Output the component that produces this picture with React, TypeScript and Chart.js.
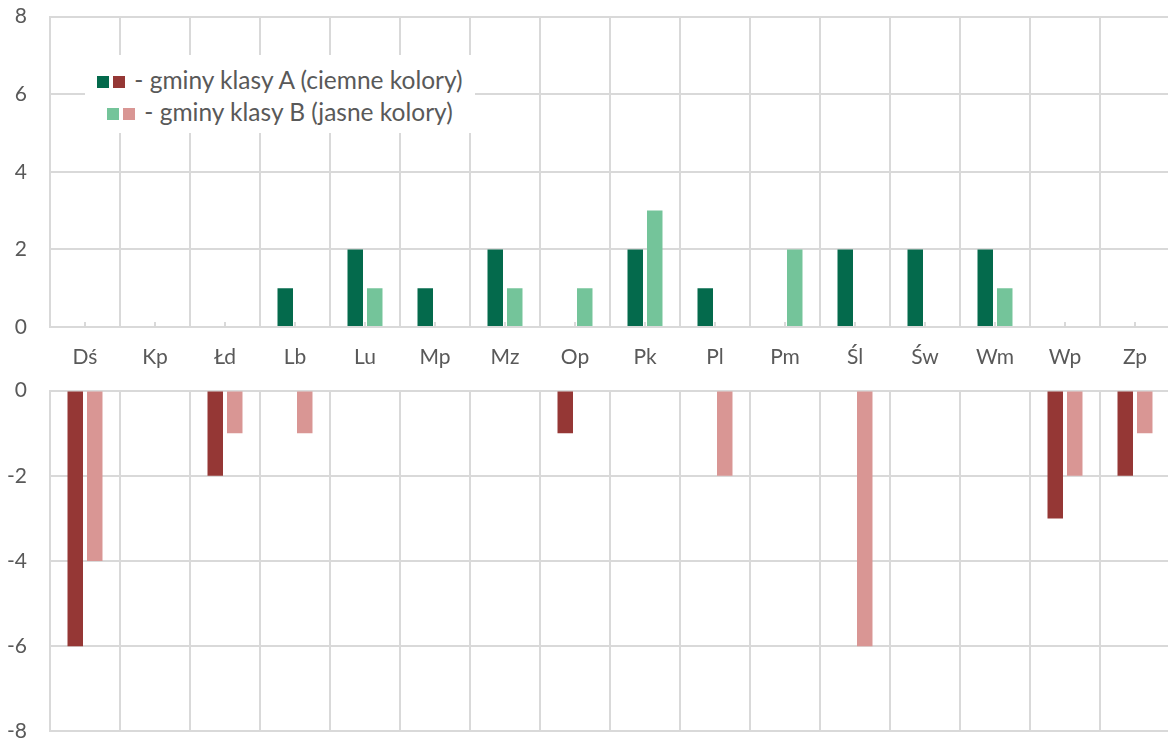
import React, { useEffect, useRef } from 'react';
import { Chart, registerables } from 'chart.js';

Chart.register(...registerables);

const categories = ['Dś', 'Kp', 'Łd', 'Lb', 'Lu', 'Mp', 'Mz', 'Op', 'Pk', 'Pl', 'Pm', 'Śl', 'Św', 'Wm', 'Wp', 'Zp'];
const classAPositive = [0, 0, 0, 1, 2, 1, 2, 0, 2, 1, 0, 2, 2, 2, 0, 0];
const classBPositive = [0, 0, 0, 0, 1, 0, 1, 1, 3, 0, 2, 0, 0, 1, 0, 0];
const classANegative = [-6, 0, -2, 0, 0, 0, 0, -1, 0, 0, 0, 0, 0, 0, -3, -2];
const classBNegative = [-4, 0, -1, -1, 0, 0, 0, 0, 0, -2, 0, -6, 0, 0, -2, -1];
const legendLineA = '- gminy klasy A (ciemne kolory)';
const legendLineB = '- gminy klasy B (jasne kolory)';

const DARK_GREEN = '#046A4C';
const LIGHT_GREEN = '#74C49A';
const DARK_RED = '#953735';
const LIGHT_RED = '#D99694';
const GRID = '#D9D9D9';
const TEXT = '#595959';
const FONT = 'Lato';

const barOpts = { categoryPercentage: 0.557, barPercentage: 0.795, borderWidth: 0 };

const centerTickMarks = {
  id: 'centerTickMarks',
  beforeDatasetsDraw(chart: any) {
    const xs = chart.scales.x;
    const { ctx, chartArea } = chart;
    ctx.save();
    ctx.strokeStyle = GRID;
    ctx.lineWidth = 2;
    categories.forEach((_, i) => {
      const px = Math.round(xs.getPixelForValue(i));
      ctx.beginPath();
      ctx.moveTo(px, chartArea.bottom);
      ctx.lineTo(px, chartArea.bottom - 5);
      ctx.stroke();
    });
    ctx.restore();
  },
};

export default function App() {
  const topRef = useRef<HTMLCanvasElement>(null);
  const bottomRef = useRef<HTMLCanvasElement>(null);

  useEffect(() => {
    const tickFont = { family: FONT, size: 21 };
    const top = new Chart(topRef.current as HTMLCanvasElement, {
      type: 'bar',
      data: {
        labels: categories,
        datasets: [
          { label: 'A', data: classAPositive, backgroundColor: DARK_GREEN, ...barOpts },
          { label: 'B', data: classBPositive, backgroundColor: LIGHT_GREEN, ...barOpts },
        ],
      },
      options: {
        responsive: false,
        animation: false,
        layout: { padding: { top: 16, right: 0, bottom: 0, left: 0 } },
        plugins: { legend: { display: false }, tooltip: { enabled: false } },
        scales: {
          x: {
            grid: { color: GRID, lineWidth: 2, drawTicks: false, offset: true },
            border: { display: true, color: GRID, width: 2 },
            ticks: { color: TEXT, font: tickFont, padding: 18, maxRotation: 0, autoSkip: false },
            afterFit: (s: any) => { s.height = 60; },
          },
          y: {
            min: 0,
            max: 8,
            ticks: { stepSize: 2, color: TEXT, font: tickFont, padding: 23 },
            grid: { color: GRID, lineWidth: 2, drawTicks: false },
            border: { display: true, color: GRID, width: 2 },
            afterFit: (s: any) => { s.width = 50; },
          },
        },
      } as any,
      plugins: [centerTickMarks],
    });

    const bottom = new Chart(bottomRef.current as HTMLCanvasElement, {
      type: 'bar',
      data: {
        labels: categories,
        datasets: [
          { label: 'A', data: classANegative, backgroundColor: DARK_RED, ...barOpts },
          { label: 'B', data: classBNegative, backgroundColor: LIGHT_RED, ...barOpts },
        ],
      },
      options: {
        responsive: false,
        animation: false,
        layout: { padding: { top: 20, right: 0, bottom: 29, left: 0 } },
        plugins: { legend: { display: false }, tooltip: { enabled: false } },
        scales: {
          x: {
            grid: { color: GRID, lineWidth: 2, drawTicks: false, offset: true },
            border: { display: false },
            ticks: { display: false },
            afterFit: (s: any) => { s.height = 0; },
          },
          y: {
            min: -8,
            max: 0,
            ticks: { stepSize: 2, color: TEXT, font: tickFont, padding: 23 },
            grid: { color: GRID, lineWidth: 2, drawTicks: false },
            border: { display: true, color: GRID, width: 2 },
            afterFit: (s: any) => { s.width = 50; },
          },
        },
      } as any,
    });

    return () => {
      top.destroy();
      bottom.destroy();
    };
  }, []);

  const sq = (c: string, gap: number) => (
    <span style={{ display: 'inline-block', width: 12, height: 12, background: c, marginRight: gap, verticalAlign: 'middle', position: 'relative', top: -1 }} />
  );

  return (
    <div style={{ position: 'absolute', left: 0, top: 0, width: 1168, height: 742, overflow: 'hidden', background: '#fff' }}>
      <canvas ref={topRef} width={1170} height={406} style={{ position: 'absolute', left: 0, top: -19 }} />
      <canvas ref={bottomRef} width={1170} height={412} style={{ position: 'absolute', left: 0, top: 355 }} />
      <div
        style={{
          position: 'absolute',
          left: 85,
          top: 55,
          width: 390,
          height: 78,
          background: '#fff',
          fontFamily: FONT,
          fontSize: 24.5,
          color: TEXT,
          textAlign: 'center',
          lineHeight: '32px',
          paddingTop: 9,
          boxSizing: 'border-box',
          whiteSpace: 'nowrap',
        }}
      >
        <div>{sq(DARK_GREEN, 4)}{sq(DARK_RED, 0)}<span style={{ marginLeft: 9 }}>{legendLineA}</span></div>
        <div>{sq(LIGHT_GREEN, 4)}{sq(LIGHT_RED, 0)}<span style={{ marginLeft: 9 }}>{legendLineB}</span></div>
      </div>
    </div>
  );
}
